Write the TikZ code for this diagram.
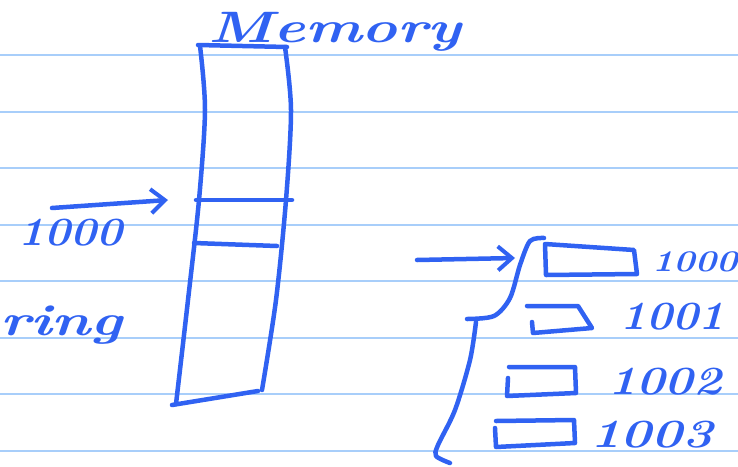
\documentclass[tikz,border=0pt]{standalone}
\usepackage{tikz}
\usetikzlibrary{arrows.meta}
\definecolor{ink}{RGB}{48,98,242}
\definecolor{ruling}{RGB}{168,206,250}

\begin{document}
\begin{tikzpicture}[x=1pt,y=-1pt,
  pen/.style={ink,line width=4.5pt,line cap=round,line join=round},
  hand/.style={ink,inner sep=0pt,font=\fontsize{40}{40}\selectfont\bfseries\itshape},
  barb/.style={-{Straight Barb[length=14pt,width=24pt,line width=4pt]}}]
\useasboundingbox (0,0) rectangle (738,466);
\fill[white] (0,0) rectangle (738,466);
% ruled paper
\foreach \y in {55,111.5,...,460}
  \draw[ruling,line width=2pt] (0,\y) -- (738,\y);
% memory column
\draw[pen] (198,45) -- (287,47);
\draw[pen] plot[smooth] coordinates {(200,46) (205,110) (199,200) (188,300) (176,404)};
\draw[pen] plot[smooth] coordinates {(285,47) (291,110) (286,200) (276,300) (262,390)};
\draw[pen] (172,405) -- (258,391);
\draw[pen] (196,200) -- (292,200);
\draw[pen] (194,243) -- (277,246);
\node[hand,anchor=base] (mem) at (335,42) {\scalebox{1.5}[1.1]{Memory}};
% left side
\coordinate (p0) at (52,208);
\coordinate (p1) at (168,200);
\draw[pen,barb] (p0) -- (p1);
\node[hand,anchor=base west] (addr) at (18,245) {\scalebox{1.1}[1]{1000}};
\node[hand,anchor=base west] (str) at (0,335) {\scalebox{1.5}[1.1]{ring}};
% right side
\coordinate (q0) at (417,260);
\coordinate (q1) at (515,258);
\draw[pen,barb] (q0) -- (q1);
\draw[pen] plot[smooth] coordinates {(544,238) (530,241) (520,265) (510,298) (494,316) (467,319)};
\draw[pen] plot[smooth] coordinates {(476,322) (470,360) (455,410) (438,445) (436,456) (450,463)};
% bytes
\draw[pen] (545,244) -- (634,250) -- (637,274) -- (546,275) -- cycle;
\draw[pen] (527,306) -- (578,306) -- (592,328) -- (533,333) -- (532,322);
\draw[pen] (509,367) -- (575,367) -- (576,393) -- (507,396) -- (508,378);
\draw[pen] (496,421) -- (574,420) -- (575,443) -- (496,447) -- (495,428);
\node[hand,anchor=base west] (b0) at (652,271) {\scalebox{1.2}[1]{\fontsize{30}{30}\selectfont 1000}};
\node[hand,anchor=base west] (b1) at (620,329) {\scalebox{1.1}[1]{1001}};
\node[hand,anchor=base west] (b2) at (608,394) {\scalebox{1.2}[1]{1002}};
\node[hand,anchor=base west] (b3) at (590,447) {\scalebox{1.3}[1]{1003}};
\end{tikzpicture}
\end{document}
